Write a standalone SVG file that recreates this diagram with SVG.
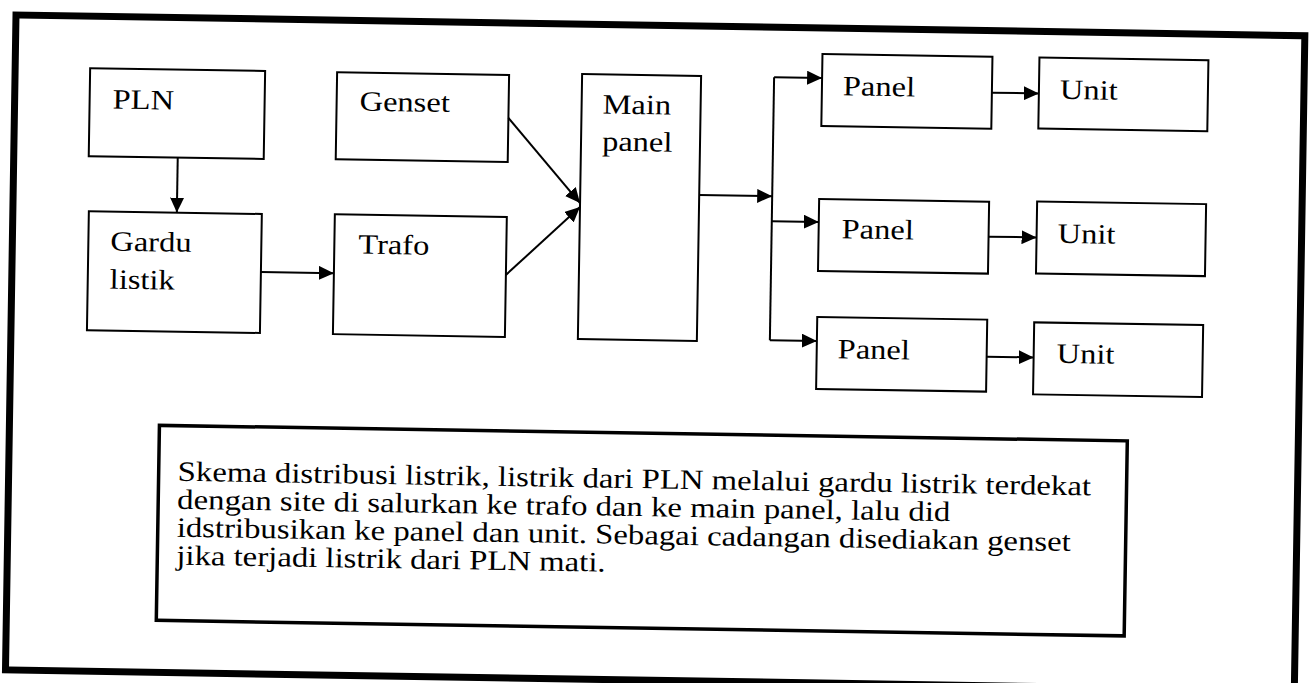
<svg xmlns="http://www.w3.org/2000/svg" width="1309" height="683" viewBox="0 0 1309 683">
<style>
.box{fill:#fff;stroke:#000;stroke-width:2}
.lbl{font-family:"Liberation Serif","Times New Roman",serif;font-size:28px;fill:#000}
.note{font-family:"Liberation Serif","Times New Roman",serif;font-size:28px;fill:#000}
.con{fill:none;stroke:#000;stroke-width:2}
</style>
<defs>
<marker id="ah" markerUnits="userSpaceOnUse" markerWidth="16" markerHeight="14" refX="15" refY="7" orient="auto">
<path d="M0,0 L15,7 L0,14 z" fill="#000"/>
</marker>
</defs>
<rect width="1309" height="683" fill="#fff"/>
<g transform="rotate(0.92 16 15)">
<rect id="frame" x="16" y="15" width="1289" height="655" fill="none" stroke="#000" stroke-width="7"/>
<g id="pln"><rect class="box" x="91" y="67" width="175" height="88"/><text class="lbl" transform="translate(114 107) scale(1.16 1)">PLN</text></g>
<g id="gardu"><rect class="box" x="92" y="210" width="173" height="119"/><text class="lbl" transform="translate(114 249) scale(1.16 1)">Gardu</text><text class="lbl" transform="translate(114 287) scale(1.16 1)">listik</text></g>
<g id="genset"><rect class="box" x="338" y="67" width="172" height="87"/><text class="lbl" transform="translate(361 105) scale(1.16 1)">Genset</text></g>
<g id="trafo"><rect class="box" x="338" y="209" width="172" height="120"/><text class="lbl" transform="translate(362 248) scale(1.16 1)">Trafo</text></g>
<g id="main"><rect class="box" x="583" y="65" width="119" height="265"/><text class="lbl" transform="translate(604 104) scale(1.16 1)">Main</text><text class="lbl" transform="translate(604 141) scale(1.16 1)">panel</text></g>
<g id="panel1"><rect class="box" x="823" y="41" width="170" height="72"/><text class="lbl" transform="translate(844 82) scale(1.16 1)">Panel</text></g>
<g id="panel2"><rect class="box" x="822" y="186" width="170" height="72"/><text class="lbl" transform="translate(845 225) scale(1.16 1)">Panel</text></g>
<g id="panel3"><rect class="box" x="822" y="304" width="170" height="72"/><text class="lbl" transform="translate(843 345) scale(1.16 1)">Panel</text></g>
<g id="unit1"><rect class="box" x="1040" y="41" width="169" height="71"/><text class="lbl" transform="translate(1061 82) scale(1.16 1)">Unit</text></g>
<g id="unit2"><rect class="box" x="1040" y="185" width="169" height="72"/><text class="lbl" transform="translate(1061 226) scale(1.16 1)">Unit</text></g>
<g id="unit3"><rect class="box" x="1039" y="306" width="169" height="72"/><text class="lbl" transform="translate(1062 346) scale(1.16 1)">Unit</text></g>
<g id="connectors">
<path class="con" d="M180,155 L180,210" marker-end="url(#ah)"/>
<path class="con" d="M265,268 L338,268" marker-end="url(#ah)"/>
<path class="con" d="M510,110 L583,194" marker-end="url(#ah)"/>
<path class="con" d="M510,267 L583,198" marker-end="url(#ah)"/>
<path class="con" d="M702,184 L775,184" marker-end="url(#ah)"/>
<path class="con" d="M775,65 L775,328"/>
<path class="con" d="M775,65 L823,65" marker-end="url(#ah)"/>
<path class="con" d="M775,209 L822,209" marker-end="url(#ah)"/>
<path class="con" d="M775,328 L822,328" marker-end="url(#ah)"/>
<path class="con" d="M993,77 L1040,77" marker-end="url(#ah)"/>
<path class="con" d="M992,221 L1040,221" marker-end="url(#ah)"/>
<path class="con" d="M992,341 L1039,341" marker-end="url(#ah)"/>
</g>
<g id="note">
<rect x="166" y="423" width="968" height="195" fill="#fff" stroke="#000" stroke-width="3.5"/>
<text class="note" transform="translate(185 478) scale(1.17 1)">Skema distribusi listrik, listrik dari PLN melalui gardu listrik terdekat</text>
<text class="note" transform="translate(185 506) scale(1.17 1)">dengan site di salurkan ke trafo dan ke  main panel, lalu did</text>
<text class="note" transform="translate(185 534) scale(1.17 1)">idstribusikan ke panel dan unit. Sebagai cadangan disediakan genset</text>
<text class="note" transform="translate(185 562) scale(1.17 1)">jika terjadi listrik dari PLN mati.</text>
</g>
</g>
</svg>
